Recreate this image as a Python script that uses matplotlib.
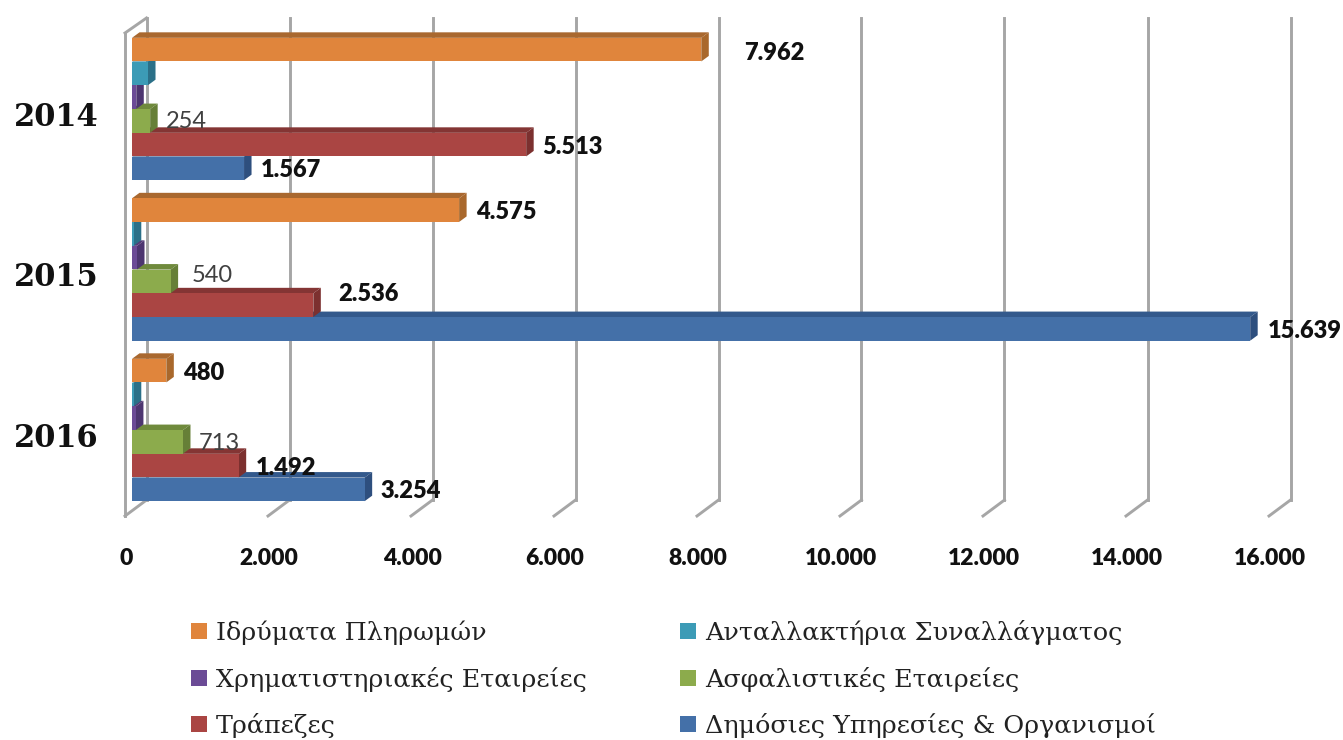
import matplotlib
matplotlib.use("Agg")
import matplotlib.pyplot as plt
from matplotlib.lines import Line2D

years = ["2014", "2015", "2016"]
tick_values = [0, 2000, 4000, 6000, 8000, 10000, 12000, 14000, 16000]
tick_labels = ["0", "2.000", "4.000", "6.000", "8.000", "10.000", "12.000", "14.000", "16.000"]

names = ["Ιδρύματα Πληρωμών", "Ανταλλακτήρια Συναλλάγματος", "Χρηματιστηριακές Εταιρείες",
         "Ασφαλιστικές Εταιρείες", "Τράπεζες", "Δημόσιες Υπηρεσίες & Οργανισμοί"]
payment = [7962, 4575, 480]
exchange = [224, 25, 25]
brokers = [60, 70, 55]
insurance = [254, 540, 713]
banks = [5513, 2536, 1492]
public = [1567, 15639, 3254]
series = [payment, exchange, brokers, insurance, banks, public]

front = ["#E0853C", "#3C9BB6", "#6B4B96", "#8CAB4C", "#AA4543", "#4470A8"]
side = ["#A9682C", "#2B7088", "#4D3670", "#667F37", "#7C302F", "#2E4F7E"]
top = ["#A9682F", "#2F7C94", "#553C78", "#6F8A3C", "#843534", "#33598C"]

# label nudges in pixels (dx from bar end, dy downwards from bar centre); None means no label
label_dx = [[43, 17, 17], None, None, [16, 21, 16], [16, 25, 17], [17, 18, 16]]
label_dy = [[3, 2, 2], None, None, [1, -6, 2], [2, -11, 2], [2, 2, 2]]
bold_label = [True, False, False, False, True, True]

W, H = 1343, 740
PX_X = 71.5 / 1000  # pixels per value unit
PITCH = 160.5
X0, YTOP, YBOT = 132, 33, 516
LEFT_PAD = 8
C0 = 109

fig = plt.figure(figsize=(W / 100, H / 100), dpi=100)
ax = fig.add_axes([(X0 - LEFT_PAD) / W, 1 - YBOT / H, (16000 * PX_X + LEFT_PAD) / W, (YBOT - YTOP) / H])
for s in ax.spines.values():
    s.set_visible(False)


def dx(p):
    return p / PX_X


def dy(p):
    return p / PITCH


# walls / gridlines
grid = dict(color="#A6A6A6", lw=2.1, clip_on=False, zorder=1, solid_joinstyle="miter")
for v in tick_values:
    ax.plot([v + dx(14.5)] * 2, [dy(18 - C0), dy(500 - C0)], **grid)
    ax.plot([v + dx(14.5), v - dx(7)], [dy(500 - C0), dy(516 - C0)], **grid)
ax.plot([-dx(7), -dx(7)], [dy(33 - C0), dy(516 - C0)], **grid)
ax.plot([-dx(7), dx(14.5)], [dy(33 - C0), dy(18 - C0)], **grid)

bar_h = 23.6 / PITCH
depth_x, depth_y = dx(7.5), dy(5.5)
offsets = [(i - 2.5) * 23.75 / PITCH for i in range(6)]

for i in range(5, -1, -1):
    z = 10 + (5 - i)
    for g, v in enumerate(series[i]):
        c = g + offsets[i]
        y0, y1 = c - bar_h / 2, c + bar_h / 2
        ax.fill([0, depth_x, v + depth_x, v], [y0, y0 - depth_y, y0 - depth_y, y0],
                color=top[i], lw=0, zorder=z, clip_on=False)
        ax.fill([v, v + depth_x, v + depth_x, v], [y0, y0 - depth_y, y1 - depth_y, y1],
                color=side[i], lw=0, zorder=z, clip_on=False)
    ax.barh([g + offsets[i] for g in range(3)], series[i], height=bar_h, color=front[i],
            linewidth=0, zorder=z + 0.5, clip_on=False)

# value labels
for i, vals in enumerate(series):
    if label_dx[i] is None:
        continue
    for g, v in enumerate(vals):
        txt = f"{v:,}".replace(",", ".")
        ax.text(v + dx(label_dx[i][g]), g + offsets[i] + dy(label_dy[i][g]), txt,
                family="Lato", fontsize=17, va="center", ha="left",
                fontweight="heavy" if bold_label[i] else "normal",
                color="#111111" if bold_label[i] else "#404040", zorder=30, clip_on=False)

# x tick labels
ax.set_xticks([v - dx(6) for v in tick_values])
ax.set_xticklabels(tick_labels, family="Lato", fontweight="heavy", fontsize=16.5, color="#111111")
ax.tick_params(axis="x", length=0, pad=23)

# year labels
ax.set_yticks([g + dy(8.5) for g in range(3)])
ax.set_yticklabels(years, family="DejaVu Serif", fontweight="bold", fontsize=22, color="#111111")
ax.tick_params(axis="y", length=0, pad=18)
for lab in ax.get_yticklabels():
    lab.set_va("center")

ax.set_xlim(-dx(LEFT_PAD), 16000)
ax.set_ylim((YBOT - C0) / PITCH, (YTOP - C0) / PITCH)

# legend: rows run across in the original, legend fills columns
order = [0, 2, 4, 1, 3, 5]
handles = [Line2D([], [], ls="", marker="s", ms=11.5, color=front[i], mew=0) for i in order]
fig.legend(handles, [names[i] for i in order], ncol=2, frameon=False,
           loc="upper left", bbox_to_anchor=(189 / W, 1 - 620 / H), bbox_transform=fig.transFigure,
           prop={"family": "DejaVu Serif", "size": 18.3}, labelcolor="#222222",
           borderpad=0, borderaxespad=0, handlelength=0.8, handletextpad=0.25,
           labelspacing=0.85, columnspacing=3.6)

fig.savefig("out.png", dpi=100, facecolor="white")
